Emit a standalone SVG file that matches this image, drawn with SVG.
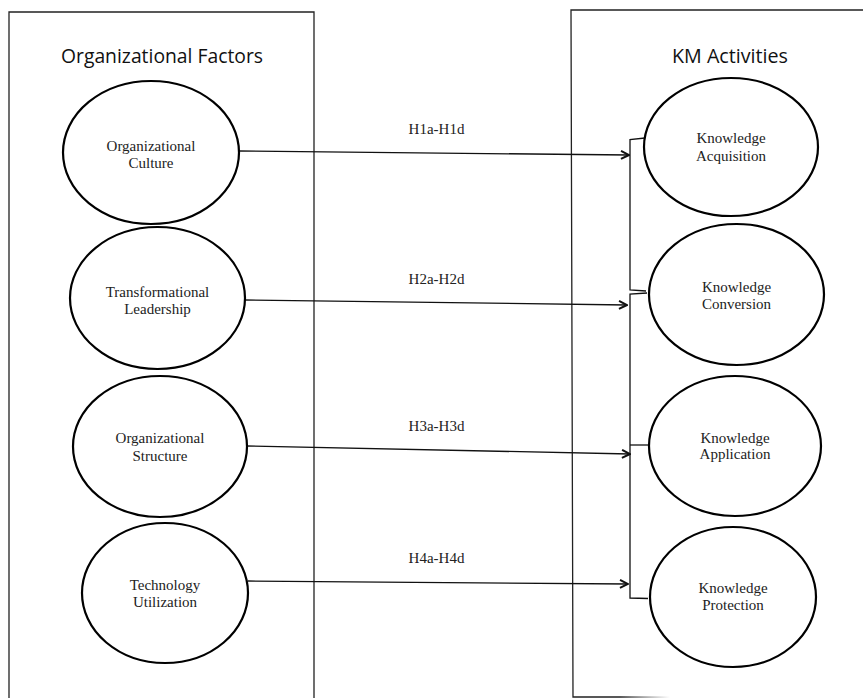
<svg xmlns="http://www.w3.org/2000/svg" width="865" height="698" viewBox="0 0 865 698">
<defs>
<style>
.frame{fill:none;stroke:#222;stroke-width:1.3}
.node ellipse{fill:#fff;stroke:#000;stroke-width:2.2}
.lbl{font-family:"Liberation Serif","Times New Roman",serif;font-size:15px;fill:#222;text-anchor:middle}
.title{font-family:"Open Sans","Liberation Sans",sans-serif;font-size:19.5px;fill:#111;text-anchor:middle}
.conn{fill:none;stroke:#111;stroke-width:1.3}
</style>
<marker id="arr" viewBox="0 0 10 10" refX="9" refY="5" markerWidth="10" markerHeight="10" markerUnits="userSpaceOnUse" orient="auto">
<path d="M1,1 L9,5 L1,9" fill="none" stroke="#111" stroke-width="2"/>
</marker>
<linearGradient id="fade" x1="0" y1="0" x2="1" y2="0">
<stop offset="0" stop-color="#222"/>
<stop offset="1" stop-color="#222" stop-opacity="0"/>
</linearGradient>
</defs>
<rect width="865" height="698" fill="#fff"/>
<g id="frames">
<path class="frame" d="M9,700 L9,12 L314,12 L314,700"/>
<path class="frame" d="M863,10 L571,10 L573,697 L620,697"/>
<line x1="620" y1="697" x2="670" y2="697.1" stroke="url(#fade)" stroke-width="1.3"/>
<text class="title" x="162" y="63" textLength="202" lengthAdjust="spacingAndGlyphs">Organizational Factors</text>
<text class="title" x="730" y="63" textLength="116" lengthAdjust="spacingAndGlyphs">KM Activities</text>
</g>
<g id="connectors">
<line class="conn" x1="239" y1="151" x2="629" y2="155" marker-end="url(#arr)"/>
<line class="conn" x1="245" y1="300" x2="627" y2="305" marker-end="url(#arr)"/>
<line class="conn" x1="247" y1="446" x2="630" y2="454" marker-end="url(#arr)"/>
<line class="conn" x1="248" y1="581" x2="628" y2="584" marker-end="url(#arr)"/>
<path class="conn" d="M645,138 L630,139.5 L630,290 L646,291"/>
<path class="conn" d="M647,293 L630,294 L630,598 L648,598.5"/>
<path class="conn" d="M630,445 L648,445"/>
<text class="lbl" x="436.5" y="134">H1a-H1d</text>
<text class="lbl" x="436.5" y="284">H2a-H2d</text>
<text class="lbl" x="436.5" y="431">H3a-H3d</text>
<text class="lbl" x="436.5" y="563">H4a-H4d</text>
</g>
<g id="n-culture" class="node">
<ellipse cx="151" cy="152.5" rx="88" ry="71.5"/>
<text class="lbl" x="151" y="151">Organizational</text>
<text class="lbl" x="151" y="168">Culture</text>
</g>
<g id="n-leadership" class="node">
<ellipse cx="157.5" cy="298" rx="87.5" ry="71"/>
<text class="lbl" x="157.5" y="297">Transformational</text>
<text class="lbl" x="157.5" y="314">Leadership</text>
</g>
<g id="n-structure" class="node">
<ellipse cx="160" cy="446.5" rx="87" ry="70.5"/>
<text class="lbl" x="160" y="443">Organizational</text>
<text class="lbl" x="160" y="461">Structure</text>
</g>
<g id="n-technology" class="node">
<ellipse cx="165" cy="593" rx="83" ry="70"/>
<text class="lbl" x="165" y="590">Technology</text>
<text class="lbl" x="165" y="607">Utilization</text>
</g>
<g id="n-acquisition" class="node">
<ellipse cx="731" cy="147" rx="87" ry="69"/>
<text class="lbl" x="731" y="143">Knowledge</text>
<text class="lbl" x="731" y="161">Acquisition</text>
</g>
<g id="n-conversion" class="node">
<ellipse cx="736.5" cy="294.5" rx="87.5" ry="70.5"/>
<text class="lbl" x="736.5" y="292">Knowledge</text>
<text class="lbl" x="736.5" y="309">Conversion</text>
</g>
<g id="n-application" class="node">
<ellipse cx="735" cy="446" rx="86" ry="70"/>
<text class="lbl" x="735" y="443">Knowledge</text>
<text class="lbl" x="735" y="459">Application</text>
</g>
<g id="n-protection" class="node">
<ellipse cx="733" cy="597" rx="83" ry="70"/>
<text class="lbl" x="733" y="593">Knowledge</text>
<text class="lbl" x="733" y="610">Protection</text>
</g>
</svg>
